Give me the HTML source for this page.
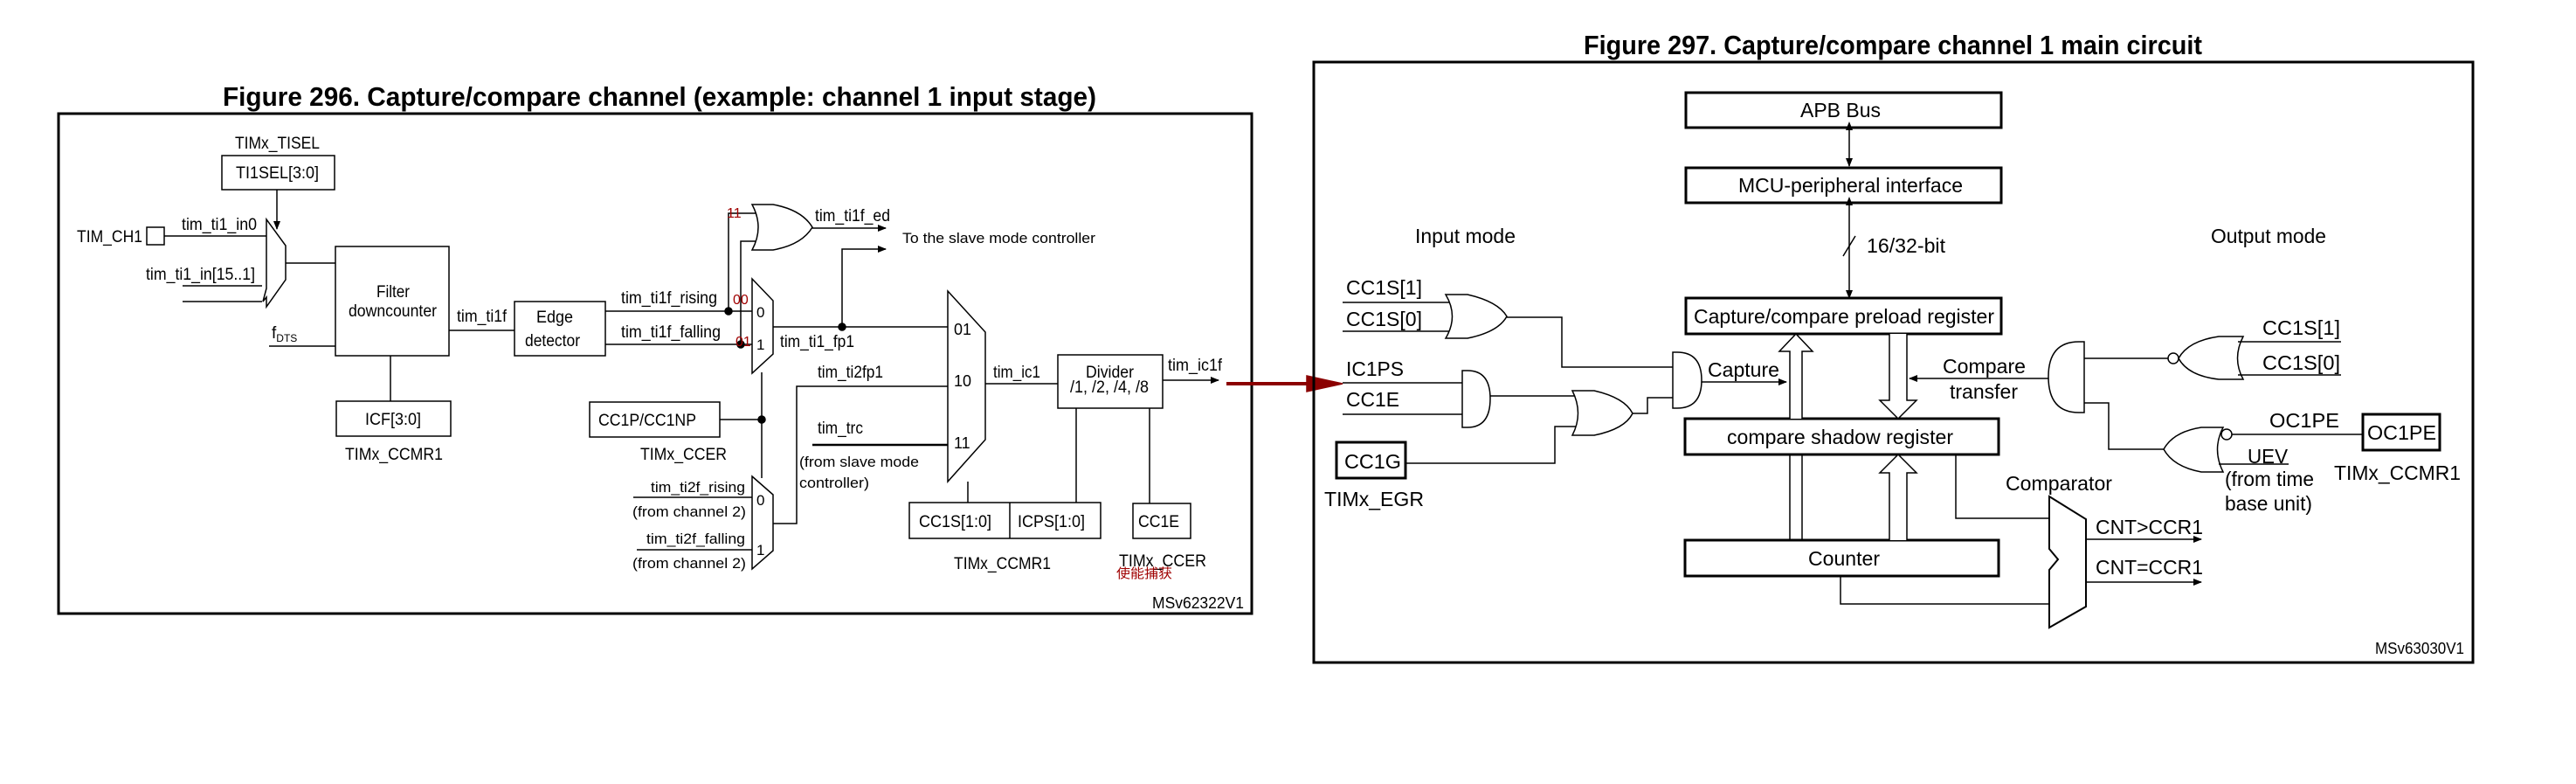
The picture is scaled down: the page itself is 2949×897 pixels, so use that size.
<!DOCTYPE html>
<html><head><meta charset="utf-8"><style>
html,body{margin:0;padding:0;background:#fff;}
svg{display:block;}
text{font-family:"Liberation Sans","Noto Sans CJK SC",sans-serif;fill:#000;}
</style></head><body>
<svg width="2949" height="897" viewBox="0 0 2949 897" xmlns="http://www.w3.org/2000/svg">
<defs>
<marker id="ar" markerWidth="10" markerHeight="8" refX="9" refY="4" orient="auto" markerUnits="userSpaceOnUse"><path d="M0,0 L10,4 L0,8 Z" fill="#000"/></marker>
<marker id="ar2" markerWidth="10" markerHeight="8" refX="1" refY="4" orient="auto-start-reverse" markerUnits="userSpaceOnUse"><path d="M0,0 L10,4 L0,8 Z" fill="#000"/></marker>
</defs>
<g stroke="#000" fill="none" stroke-width="1.5">
<!-- ================= FIG 296 ================= -->
<rect x="67" y="130" width="1366" height="572" stroke-width="3"/>
<rect x="254" y="178" width="129" height="39"/>
<line x1="317" y1="217" x2="317" y2="262" marker-end="url(#ar)"/>
<rect x="168" y="260" width="20" height="20"/>
<line x1="188" y1="270" x2="305" y2="270"/>
<polygon points="305,251 327,281 327,320 305,351 305,340 301,345 305,330" fill="#fff"/>
<line x1="209" y1="327" x2="300" y2="327"/><line x1="209" y1="345" x2="300" y2="345"/>
<line x1="327" y1="301" x2="384" y2="301"/>
<rect x="384" y="282" width="130" height="125"/>
<line x1="308" y1="396" x2="384" y2="396"/>
<line x1="447" y1="407" x2="447" y2="459"/>
<rect x="385" y="459" width="131" height="40"/>
<line x1="514" y1="378" x2="589" y2="378"/>
<rect x="589" y="345" width="104" height="62"/>
<line x1="693" y1="356" x2="861" y2="356"/>
<line x1="693" y1="394" x2="861" y2="394"/>
<circle cx="834" cy="356" r="4" fill="#000"/><circle cx="848" cy="394" r="4" fill="#000"/>
<polyline points="834,356 834,244 865,244"/>
<polyline points="848,394 848,276 865,276"/>
<path d="M861,234 L885,234 Q918,240 930,260 Q918,280 885,286 L861,286 Q875,260 861,234 Z" fill="#fff"/>
<line x1="930" y1="261" x2="1014" y2="261" marker-end="url(#ar)"/>
<polyline points="964,374 964,285 1014,285" marker-end="url(#ar)"/>
<circle cx="964" cy="374" r="4" fill="#000"/>
<polygon points="861,319 885,344 885,405 861,427"/>
<line x1="885" y1="374" x2="1085" y2="374"/>
<rect x="675" y="460" width="149" height="40"/>
<line x1="824" y1="480" x2="872" y2="480"/>
<circle cx="872" cy="480" r="4" fill="#000"/>
<line x1="872" y1="426" x2="872" y2="547"/>
<polygon points="861,545 885,566 885,630 861,651"/>
<line x1="725" y1="569" x2="861" y2="569"/>
<line x1="729" y1="629" x2="861" y2="629"/>
<polyline points="885,599 912,599 912,442 1085,442"/>
<line x1="930" y1="509" x2="1085" y2="509" stroke-width="2.5"/>
<polygon points="1085,333 1128,380 1128,503 1085,551"/>
<line x1="1128" y1="439" x2="1211" y2="439"/>
<rect x="1211" y="406" width="120" height="61"/>
<line x1="1331" y1="435" x2="1395" y2="435" marker-end="url(#ar)"/>
<line x1="1108" y1="551" x2="1108" y2="575"/>
<rect x="1041" y="575" width="219" height="41"/>
<line x1="1156" y1="575" x2="1156" y2="616"/>
<line x1="1232" y1="467" x2="1232" y2="575"/>
<line x1="1316" y1="467" x2="1316" y2="576"/>
<rect x="1297" y="576" width="66" height="40"/>
<!-- red arrow -->
<line x1="1404" y1="439" x2="1500" y2="439" stroke="#8b0000" stroke-width="4"/>
<polygon points="1496,430 1537,439 1496,448" fill="#8b0000" stroke="#8b0000"/>
<!-- ================= FIG 297 ================= -->
<rect x="1504" y="71" width="1327" height="687" stroke-width="3"/>
<rect x="1930" y="106" width="361" height="40" stroke-width="3"/>
<line x1="2117" y1="148" x2="2117" y2="190" marker-start="url(#ar2)" marker-end="url(#ar)"/>
<rect x="1930" y="192" width="361" height="40" stroke-width="3"/>
<line x1="2117" y1="234" x2="2117" y2="341" marker-start="url(#ar2)" marker-end="url(#ar)"/>
<line x1="2110" y1="293" x2="2124" y2="270"/>
<rect x="1930" y="341" width="361" height="41" stroke-width="3"/>
<rect x="1929" y="479" width="359" height="41" stroke-width="3"/>
<rect x="1929" y="618" width="359" height="41" stroke-width="3"/>
<path d="M2049,479 L2049,402 L2037,402 L2056,382 L2075,402 L2063,402 L2063,479" fill="#fff"/>
<path d="M2163,382 L2163,458 L2152,458 L2173,479 L2194,458 L2183,458 L2183,382" fill="#fff"/>
<line x1="2049" y1="520" x2="2049" y2="618"/><line x1="2063" y1="520" x2="2063" y2="618"/>
<path d="M2163,618 L2163,541 L2152,541 L2173,520 L2194,541 L2183,541 L2183,618" fill="#fff"/>
<!-- input side -->
<line x1="1537" y1="346" x2="1662" y2="346"/><line x1="1537" y1="379" x2="1662" y2="379"/>
<path d="M1655,337 L1680,337 Q1715,345 1725,362 Q1715,380 1680,387 L1655,387 Q1670,362 1655,337 Z" fill="#fff"/>
<polyline points="1725,363 1788,363 1788,420 1915,420"/>
<line x1="1537" y1="438" x2="1674" y2="438"/><line x1="1537" y1="474" x2="1674" y2="474"/>
<path d="M1674,424 L1680,424 Q1706,424 1706,456 Q1706,489 1680,489 L1674,489 Z" fill="#fff"/>
<line x1="1706" y1="453" x2="1804" y2="453"/>
<polyline points="1609,530 1780,530 1780,488 1806,488"/>
<path d="M1800,447 L1825,447 Q1860,455 1869,473 Q1860,491 1825,498 L1800,498 Q1813,473 1800,447 Z" fill="#fff"/>
<polyline points="1869,473 1886,473 1886,455 1915,455"/>
<path d="M1915,403 L1920,403 Q1948,403 1948,435 Q1948,467 1920,467 L1915,467 Z" fill="#fff"/>
<line x1="1948" y1="437" x2="2045" y2="437" marker-end="url(#ar)"/>
<rect x="1530" y="506" width="79" height="41" stroke-width="3"/>
<!-- output side -->
<path d="M2386,391 L2380,391 Q2345,391 2345,431 Q2345,472 2380,472 L2386,472 Z" fill="#fff"/>
<line x1="2345" y1="433" x2="2186" y2="433" marker-end="url(#ar)"/>
<line x1="2386" y1="410" x2="2482" y2="410"/>
<circle cx="2488" cy="410" r="6" fill="#fff"/>
<path d="M2568,385 L2540,385 Q2505,390 2494,410 Q2505,430 2540,434 L2568,434 Q2555,410 2568,385 Z" fill="#fff"/>
<line x1="2562" y1="391" x2="2680" y2="391"/><line x1="2562" y1="429" x2="2680" y2="429"/>
<polyline points="2386,461 2414,461 2414,514 2477,514"/>
<path d="M2545,489 L2520,489 Q2488,494 2477,514 Q2488,534 2520,540 L2545,540 Q2532,514 2545,489 Z" fill="#fff"/>
<circle cx="2549" cy="497" r="6" fill="#fff"/>
<line x1="2555" y1="497" x2="2705" y2="497"/>
<line x1="2540" y1="531" x2="2620" y2="531"/>
<rect x="2705" y="474" width="88" height="41" stroke-width="3"/>
<!-- comparator -->
<polygon points="2346,568 2388,594 2388,694 2346,718 2346,652 2356,640 2346,628" fill="#fff" stroke-width="2"/>
<polyline points="2239,520 2239,593 2346,593"/>
<polyline points="2107,659 2107,691 2346,691"/>
<line x1="2388" y1="617" x2="2520" y2="617" marker-end="url(#ar)"/>
<line x1="2388" y1="666" x2="2520" y2="666" marker-end="url(#ar)"/>
</g>
<!-- ===== TEXT ===== -->
<g font-size="19">
<text x="255" y="121" font-size="31" font-weight="bold" textLength="1000" lengthAdjust="spacingAndGlyphs">Figure 296. Capture/compare channel (example: channel 1 input stage)</text>
<text x="269" y="170" textLength="97" lengthAdjust="spacingAndGlyphs">TIMx_TISEL</text>
<text x="270" y="204" textLength="95" lengthAdjust="spacingAndGlyphs">TI1SEL[3:0]</text>
<text x="88" y="277" textLength="75" lengthAdjust="spacingAndGlyphs">TIM_CH1</text>
<text x="208" y="263" textLength="86" lengthAdjust="spacingAndGlyphs">tim_ti1_in0</text>
<text x="167" y="320" textLength="125" lengthAdjust="spacingAndGlyphs">tim_ti1_in[15..1]</text>
<text x="431" y="340" textLength="38" lengthAdjust="spacingAndGlyphs">Filter</text>
<text x="399" y="362" textLength="101" lengthAdjust="spacingAndGlyphs">downcounter</text>
<text x="311" y="387">f<tspan font-size="12" dy="4">DTS</tspan></text>
<text x="523" y="368" textLength="57" lengthAdjust="spacingAndGlyphs">tim_ti1f</text>
<text x="614" y="369" textLength="42" lengthAdjust="spacingAndGlyphs">Edge</text>
<text x="601" y="396" textLength="63" lengthAdjust="spacingAndGlyphs">detector</text>
<text x="418" y="486" textLength="64" lengthAdjust="spacingAndGlyphs">ICF[3:0]</text>
<text x="395" y="526" textLength="112" lengthAdjust="spacingAndGlyphs">TIMx_CCMR1</text>
<text x="711" y="347" textLength="110" lengthAdjust="spacingAndGlyphs">tim_ti1f_rising</text>
<text x="711" y="386" textLength="114" lengthAdjust="spacingAndGlyphs">tim_ti1f_falling</text>
<text x="685" y="487" textLength="112" lengthAdjust="spacingAndGlyphs">CC1P/CC1NP</text>
<text x="733" y="526" textLength="99" lengthAdjust="spacingAndGlyphs">TIMx_CCER</text>
<text x="745" y="563" font-size="17" textLength="108" lengthAdjust="spacingAndGlyphs">tim_ti2f_rising</text>
<text x="724" y="591" font-size="17" textLength="130" lengthAdjust="spacingAndGlyphs">(from channel 2)</text>
<text x="740" y="622" font-size="17" textLength="113" lengthAdjust="spacingAndGlyphs">tim_ti2f_falling</text>
<text x="724" y="650" font-size="17" textLength="130" lengthAdjust="spacingAndGlyphs">(from channel 2)</text>
<text x="866" y="363" font-size="17">0</text>
<text x="866" y="400" font-size="17">1</text>
<text x="866" y="578" font-size="17">0</text>
<text x="866" y="635" font-size="17">1</text>
<text x="832" y="249" font-size="16" style="fill:#a00000">11</text>
<text x="839" y="348" font-size="16" style="fill:#a00000">00</text>
<text x="842" y="396" font-size="16" style="fill:#a00000">01</text>
<text x="933" y="253" textLength="86" lengthAdjust="spacingAndGlyphs">tim_ti1f_ed</text>
<text x="1033" y="278" font-size="17" textLength="221" lengthAdjust="spacingAndGlyphs">To the slave mode controller</text>
<text x="893" y="397" textLength="85" lengthAdjust="spacingAndGlyphs">tim_ti1_fp1</text>
<text x="936" y="432" textLength="75" lengthAdjust="spacingAndGlyphs">tim_ti2fp1</text>
<text x="936" y="496" textLength="52" lengthAdjust="spacingAndGlyphs">tim_trc</text>
<text x="915" y="534" font-size="17" textLength="137" lengthAdjust="spacingAndGlyphs">(from slave mode</text>
<text x="915" y="558" font-size="17" textLength="80" lengthAdjust="spacingAndGlyphs">controller)</text>
<text x="1092" y="383" font-size="18">01</text>
<text x="1092" y="442" font-size="18">10</text>
<text x="1092" y="513" font-size="18">11</text>
<text x="1137" y="432" textLength="54" lengthAdjust="spacingAndGlyphs">tim_ic1</text>
<text x="1243" y="432" textLength="55" lengthAdjust="spacingAndGlyphs">Divider</text>
<text x="1225" y="449" textLength="90" lengthAdjust="spacingAndGlyphs">/1, /2, /4, /8</text>
<text x="1337" y="424" textLength="62" lengthAdjust="spacingAndGlyphs">tim_ic1f</text>
<text x="1052" y="603" textLength="83" lengthAdjust="spacingAndGlyphs">CC1S[1:0]</text>
<text x="1165" y="603" textLength="77" lengthAdjust="spacingAndGlyphs">ICPS[1:0]</text>
<text x="1303" y="603" textLength="47" lengthAdjust="spacingAndGlyphs">CC1E</text>
<text x="1092" y="651" textLength="111" lengthAdjust="spacingAndGlyphs">TIMx_CCMR1</text>
<text x="1281" y="648" textLength="100" lengthAdjust="spacingAndGlyphs">TIMx_CCER</text>
<text x="1278" y="661" font-size="15" style="fill:#a00000" textLength="64" lengthAdjust="spacingAndGlyphs">使能捕获</text>
<text x="1319" y="696" font-size="18" textLength="105" lengthAdjust="spacingAndGlyphs">MSv62322V1</text>
</g>
<g font-size="23">
<text x="1813" y="62" font-size="31" font-weight="bold" textLength="708" lengthAdjust="spacingAndGlyphs">Figure 297. Capture/compare channel 1 main circuit</text>
<text x="2061" y="134" textLength="92" lengthAdjust="spacingAndGlyphs">APB Bus</text>
<text x="1990" y="220" textLength="257" lengthAdjust="spacingAndGlyphs">MCU-peripheral interface</text>
<text x="2137" y="289" textLength="90" lengthAdjust="spacingAndGlyphs">16/32-bit</text>
<text x="1620" y="278" textLength="115" lengthAdjust="spacingAndGlyphs">Input mode</text>
<text x="2531" y="278" textLength="132" lengthAdjust="spacingAndGlyphs">Output mode</text>
<text x="1939" y="370" textLength="344" lengthAdjust="spacingAndGlyphs">Capture/compare preload register</text>
<text x="1977" y="508" textLength="259" lengthAdjust="spacingAndGlyphs">compare shadow register</text>
<text x="2070" y="647" textLength="82" lengthAdjust="spacingAndGlyphs">Counter</text>
<text x="1541" y="337" textLength="87" lengthAdjust="spacingAndGlyphs">CC1S[1]</text>
<text x="1541" y="373" textLength="87" lengthAdjust="spacingAndGlyphs">CC1S[0]</text>
<text x="1541" y="430" textLength="66" lengthAdjust="spacingAndGlyphs">IC1PS</text>
<text x="1541" y="465" textLength="61" lengthAdjust="spacingAndGlyphs">CC1E</text>
<text x="1539" y="536" textLength="65" lengthAdjust="spacingAndGlyphs">CC1G</text>
<text x="1516" y="579" textLength="114" lengthAdjust="spacingAndGlyphs">TIMx_EGR</text>
<text x="1955" y="431" textLength="82" lengthAdjust="spacingAndGlyphs">Capture</text>
<text x="2224" y="427" textLength="95" lengthAdjust="spacingAndGlyphs">Compare</text>
<text x="2232" y="456" textLength="78" lengthAdjust="spacingAndGlyphs">transfer</text>
<text x="2590" y="383" textLength="89" lengthAdjust="spacingAndGlyphs">CC1S[1]</text>
<text x="2590" y="423" textLength="89" lengthAdjust="spacingAndGlyphs">CC1S[0]</text>
<text x="2598" y="489" textLength="80" lengthAdjust="spacingAndGlyphs">OC1PE</text>
<text x="2710" y="503" textLength="79" lengthAdjust="spacingAndGlyphs">OC1PE</text>
<text x="2672" y="549" textLength="145" lengthAdjust="spacingAndGlyphs">TIMx_CCMR1</text>
<text x="2573" y="530" textLength="46" lengthAdjust="spacingAndGlyphs">UEV</text>
<text x="2547" y="556" textLength="102" lengthAdjust="spacingAndGlyphs">(from time</text>
<text x="2547" y="584" textLength="100" lengthAdjust="spacingAndGlyphs">base unit)</text>
<text x="2296" y="561" textLength="122" lengthAdjust="spacingAndGlyphs">Comparator</text>
<text x="2399" y="611" textLength="123" lengthAdjust="spacingAndGlyphs">CNT&gt;CCR1</text>
<text x="2399" y="657" textLength="123" lengthAdjust="spacingAndGlyphs">CNT=CCR1</text>
<text x="2719" y="748" font-size="18" textLength="102" lengthAdjust="spacingAndGlyphs">MSv63030V1</text>
</g>
</svg>
</body></html>
